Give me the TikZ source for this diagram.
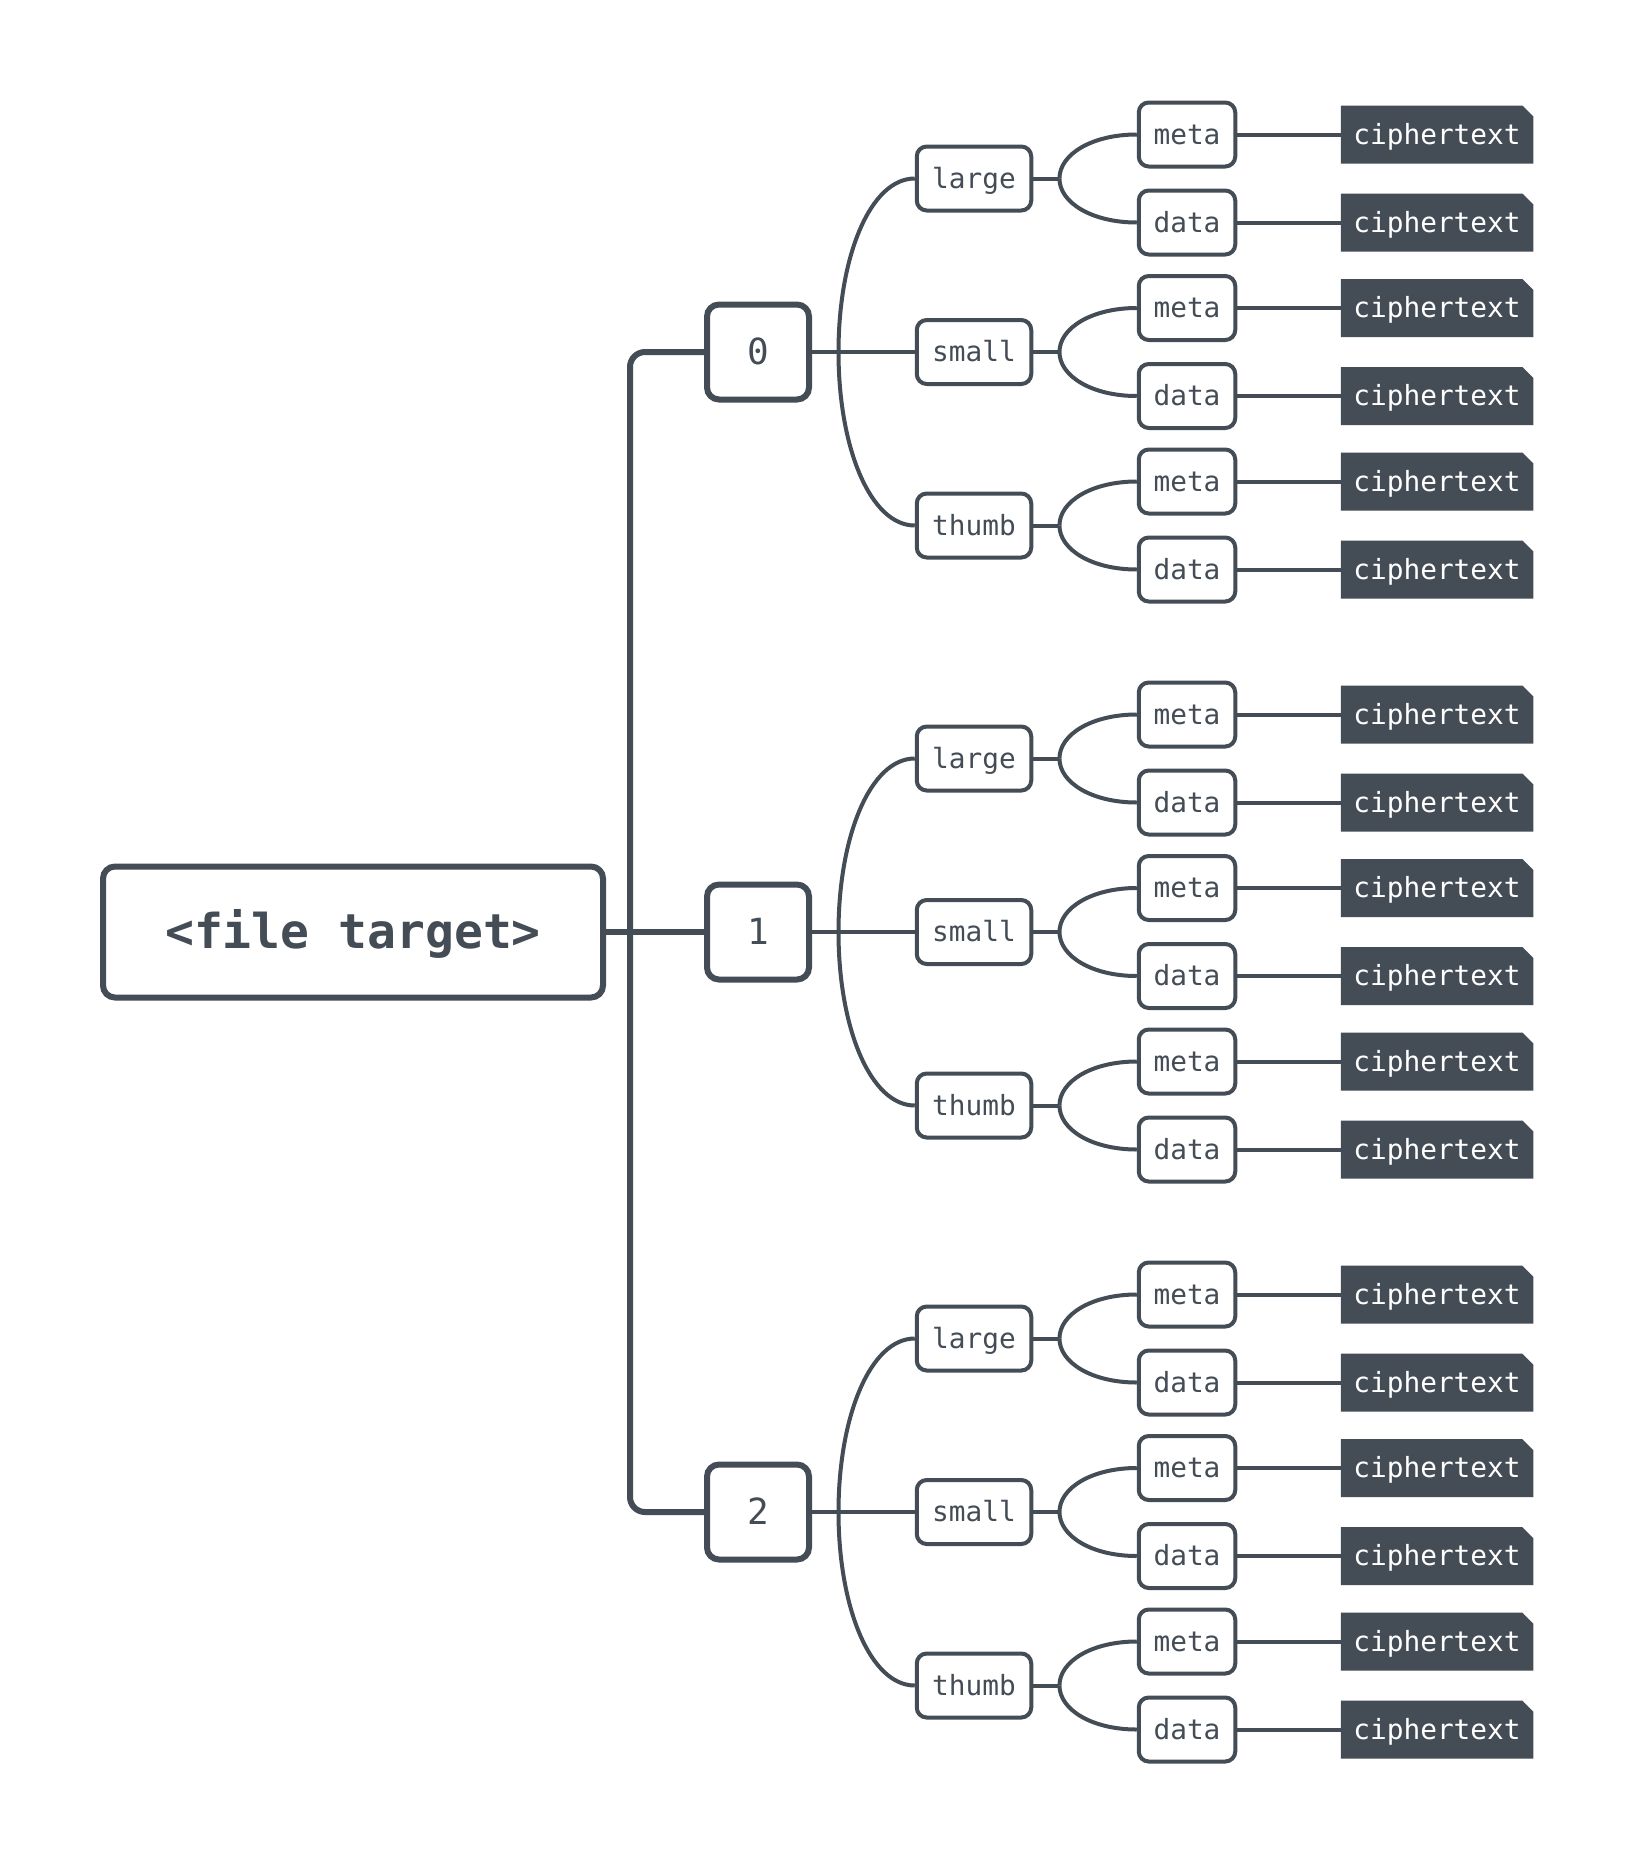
\documentclass[tikz,border=0pt]{standalone}
\usepackage{fontspec}
\setmonofont{DejaVu Sans Mono}
\definecolor{ink}{HTML}{444C56}
\begin{document}
\begin{tikzpicture}[x=1pt,y=-1pt,
  every node/.style={font=\ttfamily, text=ink, inner sep=0pt},
  smalltext/.style={font=\ttfamily\fontsize{27.8}{30}\selectfont, text height=20.8pt, text depth=1.4pt},
  rootbox/.style={draw=ink, fill=white, line width=6pt, rounded corners=12pt, minimum width=500pt, minimum height=131pt, font=\ttfamily\bfseries\fontsize{48}{52}\selectfont, text height=36pt, text depth=2.4pt},
  lonebox/.style={draw=ink, fill=white, line width=6pt, rounded corners=12pt, minimum width=102pt, minimum height=95pt, font=\ttfamily\fontsize{36}{40}\selectfont, text height=27pt, text depth=1.8pt},
  ltwobox/.style={smalltext, draw=ink, fill=white, line width=4pt, rounded corners=10pt, minimum width=114.5pt, minimum height=64pt},
  lthreebox/.style={smalltext, draw=ink, fill=white, line width=4pt, rounded corners=10pt, minimum width=96.5pt, minimum height=64pt},
  cipher/.style={smalltext, fill=white, minimum width=192.5pt, minimum height=58pt, text=white,
    path picture={\fill[ink] (path picture bounding box.south west) -- (path picture bounding box.north west) -- ([xshift=-11pt]path picture bounding box.north east) -- ([yshift=-11pt]path picture bounding box.north east) -- (path picture bounding box.south east) -- cycle;}},
  conn/.style={draw=ink, line width=4pt},
  trunk/.style={draw=ink, line width=6pt}
]
\useasboundingbox[fill=white] (0,0) rectangle (1634,1864);

\node[rootbox] (root) at (353,932) {<file target>};

\foreach \g in {0,1,2} {
  \pgfmathsetmacro\gy{352+580*\g}
  \node[lonebox] (n\g) at (758,\gy) {\g};
  \coordinate (b\g) at ([xshift=26.5pt]n\g.east);
  \draw[conn] (n\g.east) -- (b\g);
  \foreach \s/\lab/\dy in {l/large/-173.5, s/small/0, t/thumb/173.5} {
    \pgfmathsetmacro\sy{\gy+\dy}
    \node[ltwobox] (n\g\s) at (974,\sy) {\lab};
    \draw[conn] (b\g) .. controls +(0,\dy*0.552) and +(-44.4,0) .. (n\g\s.west);
    \coordinate (b\g\s) at ([xshift=26.2pt]n\g\s.east);
    \draw[conn] (n\g\s.east) -- (b\g\s);
    \foreach \t/\tl/\ty in {m/meta/-44, d/data/44} {
      \node[lthreebox] (n\g\s\t) at (1187,\sy+\ty) {\tl};
      \node[cipher] (c\g\s\t) at (1437,\sy+\ty) {ciphertext};
      \draw[conn] (b\g\s) .. controls +(0,\ty*0.552) and +(-44.6,0) .. (n\g\s\t.west);
      \draw[conn] (n\g\s\t.east) -- (c\g\s\t.west);
    }
  }
}

\draw[trunk, rounded corners=15pt] (n0.west) -- ++(-74,0) |- (n2.west);
\draw[trunk] (root.east) -- (n1.west);
\end{tikzpicture}
\end{document}
